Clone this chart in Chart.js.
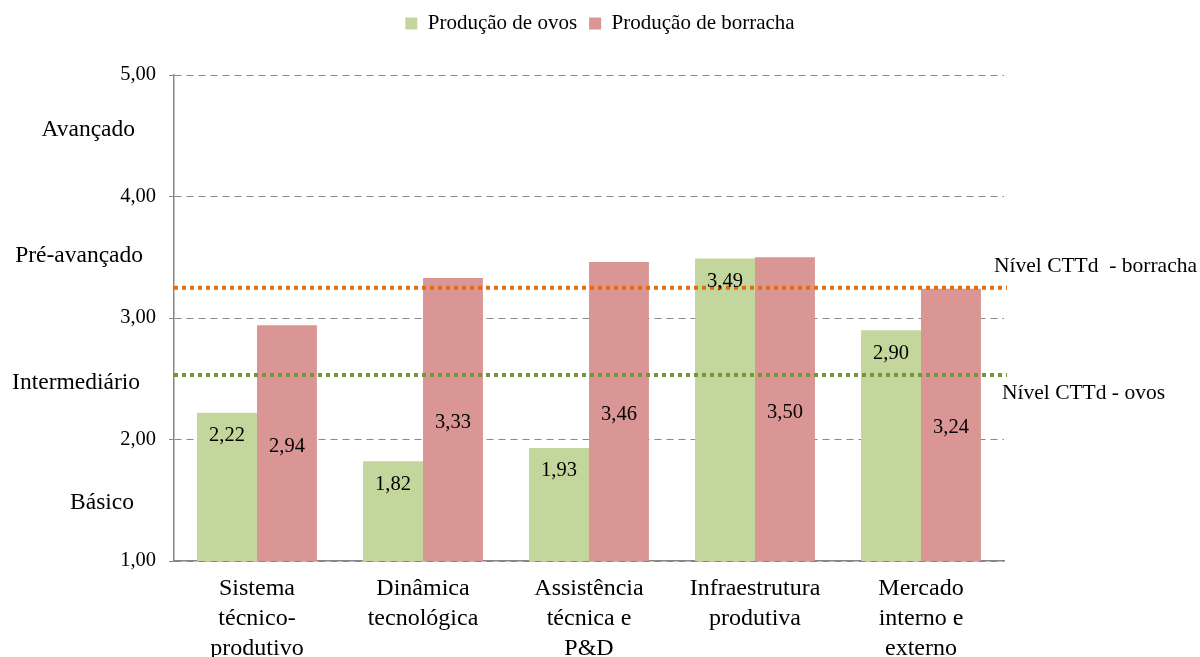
<!DOCTYPE html>
<html>
<head>
<meta charset="utf-8">
<script src="https://cdn.jsdelivr.net/npm/chart.js@4"></script>
<style>
html,body{margin:0;padding:0;background:#fff;}
#wrap{width:1200px;height:657px;position:relative;}
</style>
</head>
<body>
<div id="wrap"><canvas id="c"></canvas></div>
<script>
const categories = [
  ['Sistema','técnico-','produtivo'],
  ['Dinâmica','tecnológica'],
  ['Assistência','técnica e','P&D'],
  ['Infraestrutura','produtiva'],
  ['Mercado','interno e','externo']
];
const seriesNames = ['Produção de ovos','Produção de borracha'];
const ovos = [2.22, 1.82, 1.93, 3.49, 2.90];
const borracha = [2.94, 3.33, 3.46, 3.50, 3.24];
const yTicks = [1, 2, 3, 4, 5];
const levelLabels = ['Avançado','Pré-avançado','Intermediário','Básico'];
const levelValues = [4.55, 3.51, 2.47, 1.48];
const refLineLabels = ['Nível CTTd  - borracha','Nível CTTd - ovos'];
const refLineValues = [3.25, 2.53];

const SERIF = '"Liberation Serif", "Times New Roman", serif';
const fmt = v => v.toFixed(2).replace('.', ',');
const levelRightEdge = [135, 143, 140, 134];

const overlay = {
  id: 'overlay',
  afterDatasetsDraw(chart) {
    const ctx = chart.ctx;
    const y = chart.scales.y;
    const area = chart.chartArea;
    const lineColors = ['#e46c0a', '#77933c'];
    ctx.save();
    refLineValues.forEach((v, i) => {
      const py = y.getPixelForValue(v);
      ctx.beginPath();
      ctx.strokeStyle = lineColors[i];
      ctx.lineWidth = 4;
      ctx.setLineDash([4, 4]);
      ctx.moveTo(area.left, py);
      ctx.lineTo(area.right + 3, py);
      ctx.stroke();
    });
    ctx.setLineDash([]);
    ctx.fillStyle = '#000';
    ctx.font = '20.5px ' + SERIF;
    ctx.textAlign = 'center';
    ctx.textBaseline = 'middle';
    chart.getDatasetMeta(0).data.forEach((bar, i) => {
      ctx.fillText(fmt(ovos[i]), bar.x, bar.y + 23);
    });
    chart.getDatasetMeta(1).data.forEach((bar, i) => {
      const base = Math.min(bar.base, area.bottom);
      ctx.fillText(fmt(borracha[i]), bar.x, (bar.y + base) / 2 + 3);
    });
    ctx.textAlign = 'left';
    ctx.font = '21.5px ' + SERIF;
    ctx.fillText(refLineLabels[0], area.right - 10, y.getPixelForValue(refLineValues[0]) - 21);
    ctx.fillText(refLineLabels[1], area.right - 2, y.getPixelForValue(refLineValues[1]) + 18);
    ctx.textAlign = 'right';
    ctx.font = '23.5px ' + SERIF;
    levelLabels.forEach((t, i) => {
      ctx.fillText(t, levelRightEdge[i], y.getPixelForValue(levelValues[i]));
    });
    ctx.restore();
  }
};

new Chart(document.getElementById('c'), {
  type: 'bar',
  data: {
    labels: categories,
    datasets: [
      { label: seriesNames[0], data: ovos, backgroundColor: '#c3d69b', yAxisID: 'y' },
      { label: seriesNames[1], data: borracha, backgroundColor: '#d99694', yAxisID: 'y' }
    ]
  },
  options: {
    responsive: true,
    maintainAspectRatio: false,
    animation: false,
    devicePixelRatio: 1,
    layout: { padding: { top: 1, left: 0, right: 0, bottom: 0 } },
    datasets: { bar: { categoryPercentage: 0.722, barPercentage: 1.0 } },
    plugins: {
      legend: {
        position: 'top',
        labels: {
          font: { family: SERIF, size: 21 },
          color: '#000',
          boxWidth: 12,
          boxHeight: 12,
          padding: 12
        }
      },
      subtitle: {
        display: true,
        text: '',
        position: 'top',
        weight: 500,
        font: { size: 10, lineHeight: 1 },
        padding: { top: 0, bottom: 21 }
      },
      tooltip: { enabled: false }
    },
    scales: {
      x: {
        grid: { display: false },
        border: { display: true, color: '#868686', width: 1.5 },
        ticks: {
          color: '#000',
          font: { family: SERIF, size: 24, lineHeight: 1.25 },
          maxRotation: 0,
          autoSkip: false,
          padding: 5
        },
        afterFit(s) { s.height = 96; }
      },
      y: {
        min: 1,
        max: 5,
        afterBuildTicks(s) { s.ticks = yTicks.map(v => ({ value: v })); },
        grid: { color: '#888888', lineWidth: 1, tickLength: 5, tickColor: '#868686', tickBorderDash: [] },
        border: { display: true, color: '#868686', width: 1.5, dash: [7, 5] },
        ticks: {
          color: '#000',
          font: { family: SERIF, size: 20.5 },
          padding: 13,
          callback: v => fmt(v)
        },
        afterFit(s) { s.width = 174; }
      },
      yr: {
        position: 'right',
        display: true,
        min: 1,
        max: 5,
        grid: { display: false, drawOnChartArea: false },
        border: { display: false },
        ticks: { display: false },
        afterFit(s) { s.width = 196; }
      }
    }
  },
  plugins: [overlay]
});
</script>
</body>
</html>
